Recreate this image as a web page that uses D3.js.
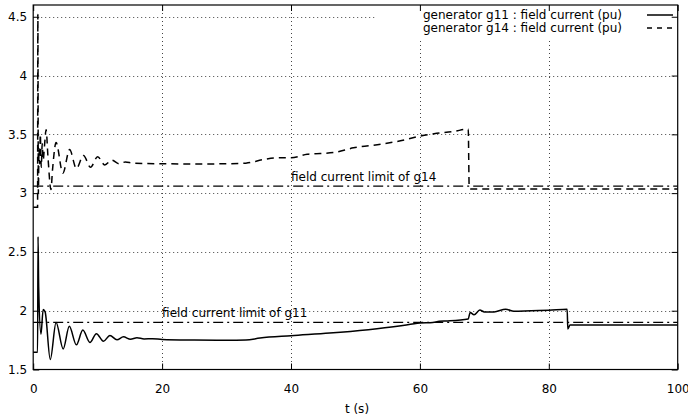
<!DOCTYPE html>
<html>
<head>
<meta charset="utf-8">
<script src="https://cdn.jsdelivr.net/npm/d3@7"></script>
<style>
  html, body { margin: 0; padding: 0; background: #fff; }
  svg { display: block; }
  text { font-family: "DejaVu Sans", sans-serif; font-size: 12px; fill: #000; }
</style>
</head>
<body>
<svg id="chart" width="688" height="420"></svg>
<script>
// Time axis (s) and field current samples (pu)
const g11Time = [0, 0.68, 0.75, 0.85, 1.2, 1.55, 1.85, 2.65, 3.55, 4.65, 5.6, 6.7, 7.7, 8.8, 9.8, 10.9, 11.9, 13.0, 14.0, 15.1, 16.1, 17.2, 18.5, 20, 25, 30, 33, 35.2, 40, 46, 52, 56.5, 60, 62, 63, 64.3, 67.5, 67.8, 68.4, 69.3, 70.0, 71.5, 73.3, 74.6, 77.3, 80, 82.85, 82.95, 83.3, 100];
const g11Value = [1.647, 1.647, 2.63, 2.2, 1.80, 2.01, 1.99, 1.585, 1.90, 1.675, 1.867, 1.71, 1.835, 1.73, 1.805, 1.74, 1.79, 1.752, 1.778, 1.757, 1.77, 1.76, 1.762, 1.755, 1.75, 1.748, 1.75, 1.768, 1.788, 1.81, 1.839, 1.867, 1.895, 1.90, 1.91, 1.913, 1.93, 1.985, 1.965, 2.005, 1.99, 1.99, 2.013, 1.995, 2.0, 2.003, 2.012, 1.845, 1.878, 1.878];

const g14Time = [0, 0.68, 0.72, 0.8, 0.9, 1.0, 1.1, 1.25, 1.4, 1.55, 1.75, 2.0, 2.3, 2.75, 3.0, 3.55, 4.6, 5.65, 6.7, 7.8, 8.9, 10.0, 11.1, 12.2, 13.3, 14.3, 15.5, 20, 25, 30, 33, 35.7, 37.8, 40, 42.5, 46.6, 49.7, 53.9, 56.5, 60.1, 62.2, 65.3, 67.5, 67.65, 68, 100];
const g14Value = [2.88, 2.88, 4.52, 3.0, 3.38, 3.25, 3.5, 3.22, 3.42, 3.28, 3.40, 3.54, 3.3, 3.03, 3.2, 3.43, 3.17, 3.37, 3.21, 3.32, 3.22, 3.31, 3.24, 3.28, 3.25, 3.265, 3.255, 3.25, 3.248, 3.25, 3.255, 3.285, 3.30, 3.30, 3.33, 3.345, 3.385, 3.415, 3.44, 3.485, 3.505, 3.525, 3.545, 3.05, 3.035, 3.035];

const limitNames = ["field current limit of g11", "field current limit of g14"];
const limitValues = [1.90, 3.06];
const limitLabelTime = [20, 40];

const legendLabels = ["generator g11 : field current (pu)", "generator g14 : field current (pu)"];
const xTicks = [0, 20, 40, 60, 80, 100];
const yTicks = [1.5, 2, 2.5, 3, 3.5, 4, 4.5];
const xTitle = "t (s)";

const svg = d3.select("#chart");
const plotLeft = 33.2, plotRight = 677.7, plotTop = 5, plotBottom = 369.5;
const x = d3.scaleLinear().domain([0, 100]).range([plotLeft, plotRight]);
const y = d3.scaleLinear().domain([1.5, 4.6]).range([plotBottom, plotTop]);

// grid
const grid = svg.append("g").attr("stroke", "#444").attr("stroke-width", 1).attr("stroke-dasharray", "1,3");
grid.selectAll("line.h").data(yTicks.slice(1)).join("line")
  .attr("x1", plotLeft).attr("x2", plotRight)
  .attr("y1", d => Math.round(y(d)) + 0.5).attr("y2", d => Math.round(y(d)) + 0.5);
grid.selectAll("line.v").data(xTicks.slice(1, -1)).join("line")
  .attr("y1", plotTop).attr("y2", plotBottom)
  .attr("x1", d => Math.round(x(d)) + 0.5).attr("x2", d => Math.round(x(d)) + 0.5);

// key area blanks the grid behind it
svg.append("rect").attr("x", 375).attr("y", plotTop).attr("width", plotRight - 375).attr("height", 36).attr("fill", "#fff");

// limit lines
svg.append("g").selectAll("line").data(limitValues).join("line")
  .attr("x1", x(0)).attr("x2", x(100))
  .attr("y1", d => y(d)).attr("y2", d => y(d))
  .attr("stroke", "#000").attr("stroke-width", 1.3).attr("stroke-dasharray", "10,4,2,4");

svg.append("g").selectAll("text").data(limitNames).join("text")
  .attr("x", (d, i) => x(limitLabelTime[i]))
  .attr("y", (d, i) => y(limitValues[i]) - 5)
  .text(d => d);

// data curves
const line = d3.line().x(d => x(d[0])).y(d => y(d[1])).curve(d3.curveMonotoneX);
const g11 = g11Time.map((t, i) => [t, g11Value[i]]);
const g14 = g14Time.map((t, i) => [t, g14Value[i]]);

svg.append("path").datum(g14).attr("d", line)
  .attr("fill", "none").attr("stroke", "#000").attr("stroke-width", 1.5).attr("stroke-dasharray", "7,5");
svg.append("path").datum(g11).attr("d", line)
  .attr("fill", "none").attr("stroke", "#000").attr("stroke-width", 1.5);

// axes with inward ticks
const axL = svg.append("g").attr("transform", `translate(${plotLeft},0)`)
  .call(d3.axisLeft(y).tickValues(yTicks).tickFormat(d3.format("")).tickSize(-6).tickPadding(6));
const axR = svg.append("g").attr("transform", `translate(${plotRight},0)`)
  .call(d3.axisRight(y).tickValues(yTicks).tickFormat("").tickSize(-6));
const axB = svg.append("g").attr("transform", `translate(0,${plotBottom})`)
  .call(d3.axisBottom(x).tickValues(xTicks).tickSize(-6).tickPadding(15));
const axT = svg.append("g").attr("transform", `translate(0,${plotTop})`)
  .call(d3.axisTop(x).tickValues(xTicks).tickFormat("").tickSize(-6));
[axL, axR, axB, axT].forEach(a => {
  a.select(".domain").remove();
  a.selectAll("text").attr("font-family", "DejaVu Sans").attr("font-size", 12).attr("fill", "#000");
  a.selectAll("line").attr("stroke", "#000");
});

// frame
svg.append("rect").attr("x", plotLeft).attr("y", plotTop).attr("width", plotRight - plotLeft).attr("height", plotBottom - plotTop)
  .attr("fill", "none").attr("stroke", "#000").attr("stroke-width", 1.2);

svg.append("text").attr("x", 357).attr("y", 413).attr("text-anchor", "middle").text(xTitle);

// key
const key = svg.append("g");
const rowY = [15, 28];
const keyDash = [null, "5,5"];
legendLabels.forEach((lab, i) => {
  key.append("text").attr("x", 622).attr("y", rowY[i]).attr("dy", "0.35em").attr("text-anchor", "end").text(lab);
  key.append("line").attr("x1", 647).attr("x2", 673).attr("y1", rowY[i]).attr("y2", rowY[i])
    .attr("stroke", "#000").attr("stroke-width", 1.5).attr("stroke-dasharray", keyDash[i]);
});
</script>
</body>
</html>
